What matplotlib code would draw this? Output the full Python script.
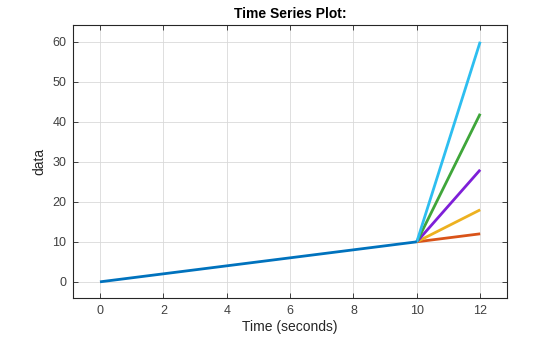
import matplotlib
matplotlib.use("Agg")
import matplotlib.pyplot as plt

plt.rcParams['font.family'] = ['Liberation Sans', 'DejaVu Sans']

# shared part of the series
t_base = [0, 10]
y_base = [0, 10]

# branches from t=10 to t=12
t_branch = [10, 12]
branch_end = [12, 18, 28, 42, 60]
branch_colors = ['#D95319', '#EDB120', '#7E1FD8', '#3FA63A', '#2DBEF0']
base_color = '#0072BD'

fig = plt.figure(figsize=(5.6, 3.37), dpi=100)
ax = fig.add_axes([0.131, 0.115, 0.774, 0.811])

for end, c in zip(branch_end, branch_colors):
    ax.plot(t_branch, [y_base[-1], end], color=c, lw=2.0, solid_capstyle='butt')
ax.plot(t_base, y_base, color=base_color, lw=2.0, solid_capstyle='butt')

ax.set_xlim(-0.84, 12.84)
ax.set_ylim(-4.1, 64.2)
ax.set_xticks(range(0, 13, 2))
ax.set_yticks(range(0, 61, 10))
ax.grid(True, color='#d9d9d9', lw=0.6)
ax.set_axisbelow(True)

dark = '#262626'
for s in ax.spines.values():
    s.set_color(dark)
    s.set_linewidth(0.8)
ax.tick_params(direction='in', top=True, right=True, colors=dark,
               labelsize=9, length=3.5, width=0.6, pad=5)
ax.tick_params(labelcolor='#404040')
ax.set_xlabel('Time (seconds)', fontsize=10, color=dark, labelpad=2)
ax.set_ylabel('data', fontsize=10, color=dark, labelpad=4)
ax.set_title('Time Series Plot:', fontsize=10, fontweight='bold', color='#000000', pad=5)

fig.savefig('out.png', dpi=100)
